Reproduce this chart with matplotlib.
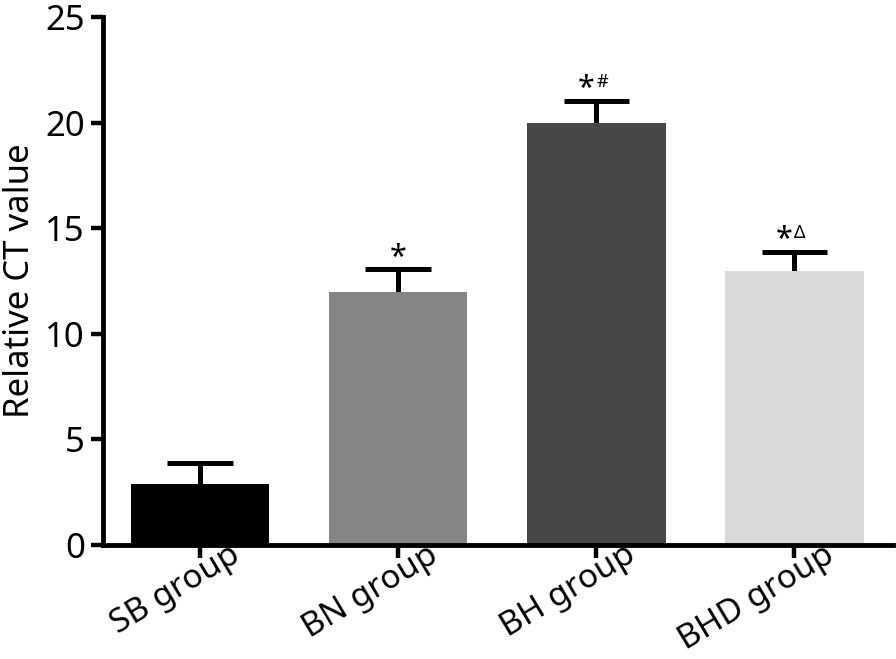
import matplotlib
matplotlib.use("Agg")
import matplotlib.pyplot as plt
import matplotlib.transforms as mtransforms
import numpy as np

plt.rcParams['font.family'] = ['Noto Sans', 'DejaVu Sans']

groups = ['SB group', 'BN group', 'BH group', 'BHD group']
values = [2.9, 12.0, 20.0, 13.0]
errors = [1.0, 1.05, 1.05, 0.9]
marks = ['', '*', '*#', '*\u0394']
colors = ['#000000', '#858585', '#464646', '#d9d9d9']

fig = plt.figure(figsize=(8.96, 6.59), dpi=100)
ax = fig.add_axes([0.115, 0.173, 0.882, 0.801])

x = np.arange(len(groups))
tops = np.array(values) + np.array(errors)
ax.bar(x, values, width=0.7, color=colors, zorder=2)
# upper error bars only (stem + cap)
ax.vlines(x, np.array(values) - 0.3, tops, color='black', linewidth=3.6, zorder=1)
ax.hlines(tops, x - 0.165, x + 0.165, color='black', linewidth=3.6, zorder=3)

for i in range(len(groups)):
    if marks[i] == '':
        continue
    y = tops[i] + 1.25
    if len(marks[i]) > 1:
        ax.text(x[i] - 0.01, y, marks[i][0], ha='right', va='top', fontsize=22)
        ax.text(x[i] + 0.0, y + 0.05, marks[i][1:], ha='left', va='top', fontsize=13)
    else:
        ax.text(x[i], y, marks[i], ha='center', va='top', fontsize=22)

ax.set_xlim(-0.49, 3.5)
ax.set_ylim(0, 25)
ax.set_yticks([0, 5, 10, 15, 20, 25])
ax.set_xticks(x)
ax.set_xticklabels(groups, rotation=31, ha='right', va='center',
                   rotation_mode='anchor', fontsize=24)
ax.tick_params(axis='y', labelsize=25, width=3.2, length=9, pad=4)
ax.tick_params(axis='x', width=3.2, length=9, pad=5)
ax.set_ylabel('Relative CT value', fontsize=25, labelpad=6)

offset = mtransforms.ScaledTranslation(0.37, 0.12, fig.dpi_scale_trans)
for lab in ax.get_xticklabels():
    lab.set_transform(lab.get_transform() + offset)

for s in ['top', 'right']:
    ax.spines[s].set_visible(False)
for s in ['left', 'bottom']:
    ax.spines[s].set_linewidth(3.5)

fig.savefig('out.png', dpi=100)
